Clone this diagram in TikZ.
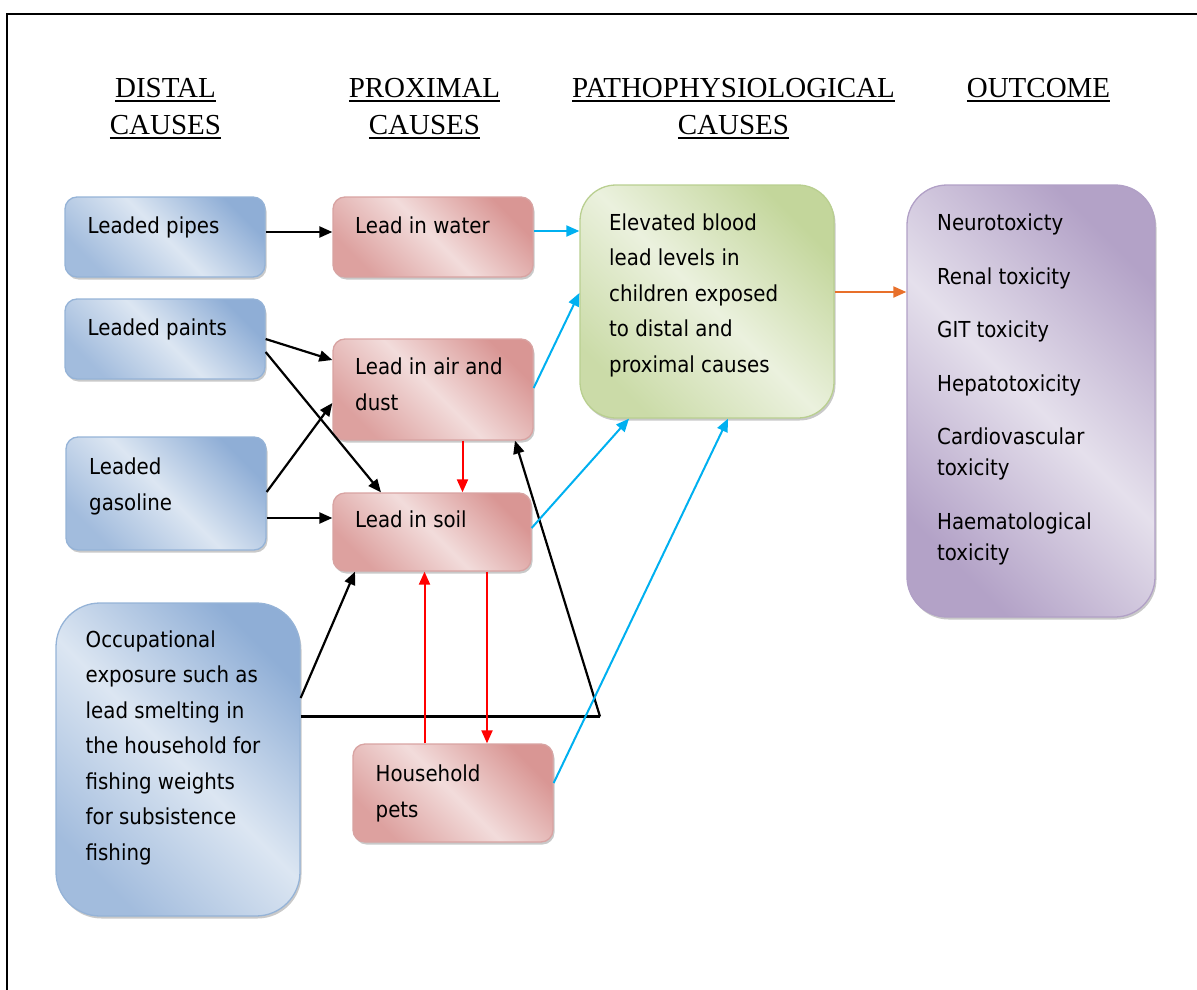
\documentclass[tikz,border=0pt]{standalone}
\usepackage{fontspec}
\setmainfont{Liberation Serif}
\newfontfamily\bodyfont{DejaVu Sans Condensed}
\usetikzlibrary{arrows.meta,shadows}

\definecolor{blueD}{HTML}{8FAED6}
\definecolor{blueL}{HTML}{DCE6F2}
\definecolor{blueE}{HTML}{95B3D7}
\definecolor{redD}{HTML}{D99694}
\definecolor{redL}{HTML}{F2DCDB}
\definecolor{redE}{HTML}{D8A3A2}
\definecolor{greenD}{HTML}{C3D69B}
\definecolor{greenL}{HTML}{EBF1DE}
\definecolor{greenE}{HTML}{B9CF90}
\definecolor{purpD}{HTML}{B3A2C7}
\definecolor{purpL}{HTML}{E5E0EC}
\definecolor{purpE}{HTML}{B1A0C6}
\definecolor{linkblue}{HTML}{00B0F0}
\definecolor{linkred}{HTML}{FF0000}
\definecolor{linkorange}{HTML}{E8702A}

% heading underline: a 2.2pt rule set just below the baseline
\newcommand\hdul[1]{\setbox0\hbox{#1}\rlap{\rule[-4.7pt]{\wd0}{2.2pt}}\box0}

\begin{document}
\begin{tikzpicture}[x=1pt,y=-1pt,
  box/.style={rectangle, rounded corners=#1, line width=1.3pt, inner sep=0pt,
    drop shadow={shadow xshift=1.5pt, shadow yshift=-2.5pt, opacity=0.3, fill=black!70}},
  box/.default=12pt,
  % dark towards the upper right, lighter towards the lower left, light band between
  bluebox/.style={box=#1, draw=blueE, shade,
    left color=blueD, right color=blueD!75!blueL, middle color=blueL, shading angle=-45},
  bluebox/.default=12pt,
  redbox/.style={box=#1, draw=redE, shade,
    left color=redD, right color=redD!85!redL, middle color=redL, shading angle=-45},
  redbox/.default=12pt,
  greenbox/.style={box=#1, draw=greenE, shade,
    left color=greenD, right color=greenD!80!greenL, middle color=greenL, shading angle=-45},
  greenbox/.default=12pt,
  purpbox/.style={box=#1, draw=purpE, shade,
    left color=purpD, right color=purpD, middle color=purpL, shading angle=-45},
  purpbox/.default=12pt,
  % the base anchor of these text blocks is the baseline of their last line
  txt/.style={font=\bodyfont\fontsize{22}{35.5}\selectfont, align=left,
    inner sep=0pt, anchor=base west},
  head/.style={font=\fontsize{29}{37.5}\selectfont, align=center,
    inner sep=0pt, anchor=base},
  tip/.style={-{Triangle[length=13pt,width=11pt]}},
  blackarrow/.style={tip, draw=black, line width=2.2pt},
  bluearrow/.style={tip, draw=linkblue, line width=2pt},
  redarrow/.style={tip, draw=linkred, line width=2pt},
  orangearrow/.style={tip, draw=linkorange, line width=2pt},
]
\useasboundingbox (0,0) rectangle (1197,990);

% frame
\draw[line width=2.5pt] (1197,14) -- (7,14) -- (7,990);

% column headings
\node[head] (h1) at (165.5,134.5) {\hdul{DISTAL}\\\hdul{CAUSES}};
\node[head] (h2) at (424.5,134.5) {\hdul{PROXIMAL}\\\hdul{CAUSES}};
\node[head] (h3) at (733.5,134.5) {\hdul{PATHOPHYSIOLOGICAL}\\\hdul{CAUSES}};
\node[head] (h4) at (1038.5,97) {\hdul{OUTCOME}};

% distal causes
\node[bluebox, minimum width=200pt, minimum height=80pt] (pipes) at (165,237) {};
\node[bluebox, minimum width=200pt, minimum height=80pt] (paints) at (165,339) {};
\node[bluebox, minimum width=200pt, minimum height=113pt] (gas) at (166,493.5) {};
\node[bluebox=44pt, minimum width=244pt, minimum height=313pt] (occ) at (178,759.5) {};

% proximal causes
\node[redbox, minimum width=200pt, minimum height=80pt] (water) at (433,237) {};
\node[redbox, minimum width=200pt, minimum height=101pt] (air) at (433,389.5) {};
\node[redbox, minimum width=198pt, minimum height=78pt] (soil) at (432,532) {};
\node[redbox, minimum width=200pt, minimum height=98pt] (pets) at (453,793) {};

% pathophysiological cause and outcome
\node[greenbox=36pt, minimum width=254pt, minimum height=233pt] (blood) at (707,301.5) {};
\node[purpbox=40pt, minimum width=248pt, minimum height=432pt] (out) at (1031,401) {};

% box texts
\node[txt] (pipes-t) at (87.5,233) {Leaded pipes};
\node[txt] (paints-t) at (87.5,335) {Leaded paints};
\node[txt] (gas-t) at (89,510) {Leaded\\gasoline};
\node[txt] (occ-t) at (85.5,860) {Occupational\\exposure such as\\lead smelting in\\the household for\\fishing weights\\for subsistence\\fishing};
\node[txt] (water-t) at (355,233) {Lead in water};
\node[txt] (air-t) at (355,410) {Lead in air and\\dust};
\node[txt] (soil-t) at (355,527) {Lead in soil};
\node[txt] (pets-t) at (375.5,817) {Household\\pets};
\node[txt] (blood-t) at (609,372) {Elevated blood\\lead levels in\\children exposed\\to distal and\\proximal causes};
\node[txt] (out-t) at (937,560) {Neurotoxicty\\[18pt]Renal toxicity\\[18pt]GIT toxicity\\[18pt]Hepatotoxicity\\[18pt]Cardiovascular\\[-4.5pt]toxicity\\[18pt]Haematological\\[-4.5pt]toxicity};

% distal -> proximal
\draw[blackarrow] ([yshift=5pt]pipes.east) -- ([yshift=5pt]water.west);
\draw[blackarrow] (paints.east) -- ([yshift=29.5pt]air.west);
\draw[blackarrow] ([yshift=-13pt]paints.east) -- ([xshift=-51pt]soil.north);
\draw[blackarrow] ([yshift=1.5pt]gas.east) -- ([yshift=-13.5pt]air.west);
\draw[blackarrow] ([yshift=-24.5pt]gas.east) -- ([yshift=-24.5pt]gas.east -| soil.west);
\draw[blackarrow] ([yshift=61.5pt]occ.east) -- ([xshift=-77pt]soil.south);
\coordinate (turn) at (600,716.5);
\draw[black, line width=2.2pt, line join=miter] ([yshift=43pt]occ.east) -- (turn);
\draw[blackarrow] (turn) -- ([xshift=82pt]air.south);

% exchanges between soil, air and pets
\draw[redarrow] ([xshift=29.5pt]air.south) -- ([xshift=29.5pt]air.south |- soil.north);
\draw[redarrow] ([xshift=-28.5pt]pets.north) -- ([xshift=-28.5pt]pets.north |- soil.south);
\draw[redarrow] ([xshift=34pt]pets.north |- soil.south) -- ([xshift=34pt]pets.north);

% proximal -> blood lead levels
\draw[bluearrow] ([yshift=6pt]water.east) -- ([yshift=6pt]water.east -| blood.west);
\draw[bluearrow] ([yshift=1.5pt]air.east) -- ([yshift=8.5pt]blood.west);
\draw[bluearrow] ([yshift=4pt]soil.east) -- ([xshift=-78pt]blood.south);
\draw[bluearrow] ([yshift=10pt]pets.east) -- ([xshift=21pt]blood.south);

% blood lead levels -> outcome
\draw[orangearrow] ([yshift=9.5pt]blood.east) -- ([yshift=9.5pt]blood.east -| out.west);
\end{tikzpicture}
\end{document}
